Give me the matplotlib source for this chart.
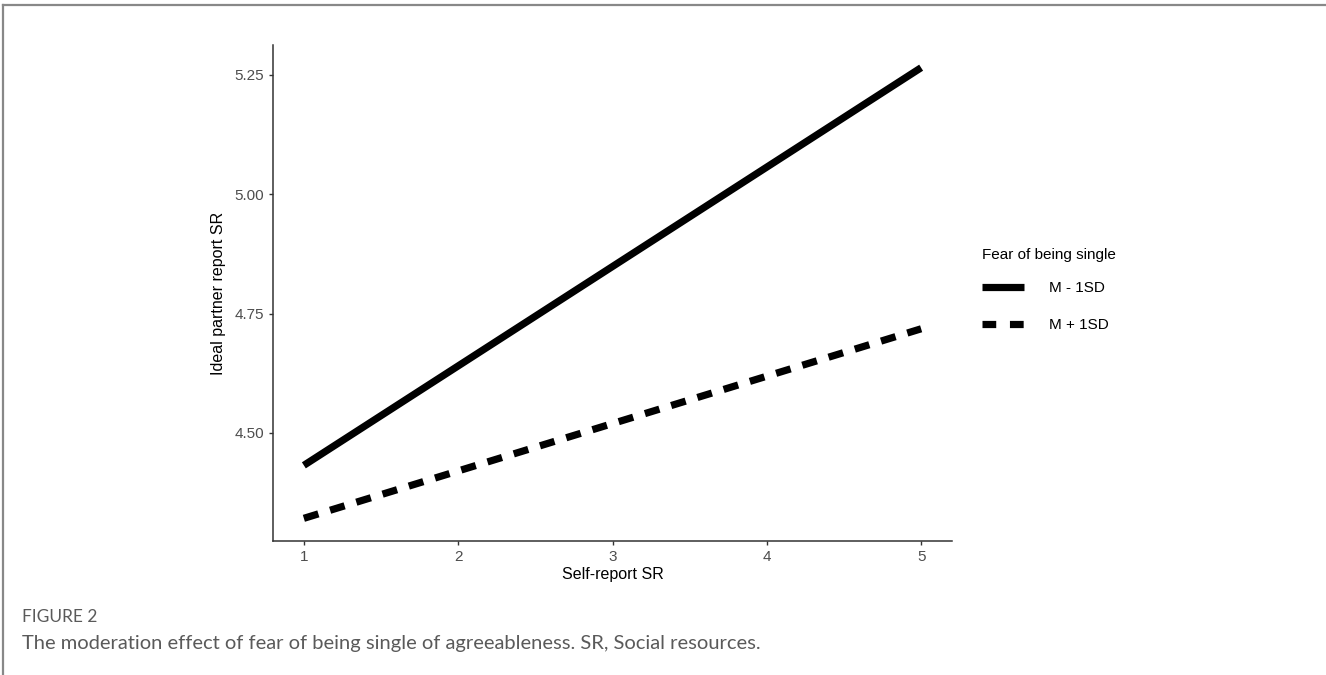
import matplotlib
matplotlib.use("Agg")
import matplotlib.pyplot as plt
from matplotlib.lines import Line2D

plt.rcParams['font.family'] = ['Liberation Sans', 'DejaVu Sans']

# simple slopes
self_report = [1, 5]
low_fear = [4.432, 5.265]     # M - 1SD
high_fear = [4.321, 4.718]    # M + 1SD
series_names = ['M - 1SD', 'M + 1SD']
x_ticks = [1, 2, 3, 4, 5]
y_ticks = [4.50, 4.75, 5.00, 5.25]

fig = plt.figure(figsize=(13.26, 6.75), dpi=100)
ax = fig.add_axes([273 / 1326, 1 - 541 / 675, (952 - 273) / 1326, (541 - 45) / 675])

lw = 5.2
ax.plot(self_report, low_fear, color='black', lw=lw, solid_capstyle='butt')
ax.plot(self_report, high_fear, color='black', lw=lw, dashes=(2.1, 1.7),
        dash_capstyle='butt')

ax.set_xlim(0.8, 5.2)
ax.set_ylim(4.2735, 5.3125)
ax.set_xticks(x_ticks)
ax.set_yticks(y_ticks)
ax.set_yticklabels(['%.2f' % v for v in y_ticks])

for s in ['top', 'right']:
    ax.spines[s].set_visible(False)
for s in ['left', 'bottom']:
    ax.spines[s].set_color('#333333')
    ax.spines[s].set_linewidth(1.1)
ax.tick_params(colors='#333333', labelcolor='#4d4d4d', labelsize=11,
               length=3, width=1)

ax.set_xlabel('Self-report SR', fontsize=11.5, labelpad=2)
ax.set_ylabel('Ideal partner report SR', fontsize=11.5, labelpad=6)

handles = [Line2D([], [], color='black', lw=lw, solid_capstyle='butt'),
           Line2D([], [], color='black', lw=lw, dashes=(1.9, 1.9),
                  dash_capstyle='butt')]
leg = fig.legend(handles, series_names, title='Fear of being single',
                 loc='upper left', bbox_to_anchor=(971 / 1326, 1 - 237 / 675),
                 frameon=False, fontsize=11, title_fontsize=11,
                 handlelength=2.8, handletextpad=1.6, labelspacing=1.5,
                 borderaxespad=0.3)
leg._legend_box.align = 'left'
leg._legend_box.sep = 14

# caption and page frame
fig.text(22 / 1326, 1 - 617 / 675, 'FIGURE 2', fontsize=12.5, color='#5a5a5a',
         family=['Lato', 'DejaVu Sans'], va='center')
fig.text(22 / 1326, 1 - 643 / 675,
         'The moderation effect of fear of being single of agreeableness. SR, Social resources.',
         fontsize=14.5, color='#5a5a5a', family=['Lato', 'DejaVu Sans'], va='center')
fig.add_artist(Line2D([3 / 1326, 1], [1 - 5 / 675, 1 - 5 / 675], color='#888888', lw=1.6))
fig.add_artist(Line2D([3 / 1326, 3 / 1326], [0, 1 - 5 / 675], color='#888888', lw=1.6))

fig.savefig('out.png', dpi=100)
